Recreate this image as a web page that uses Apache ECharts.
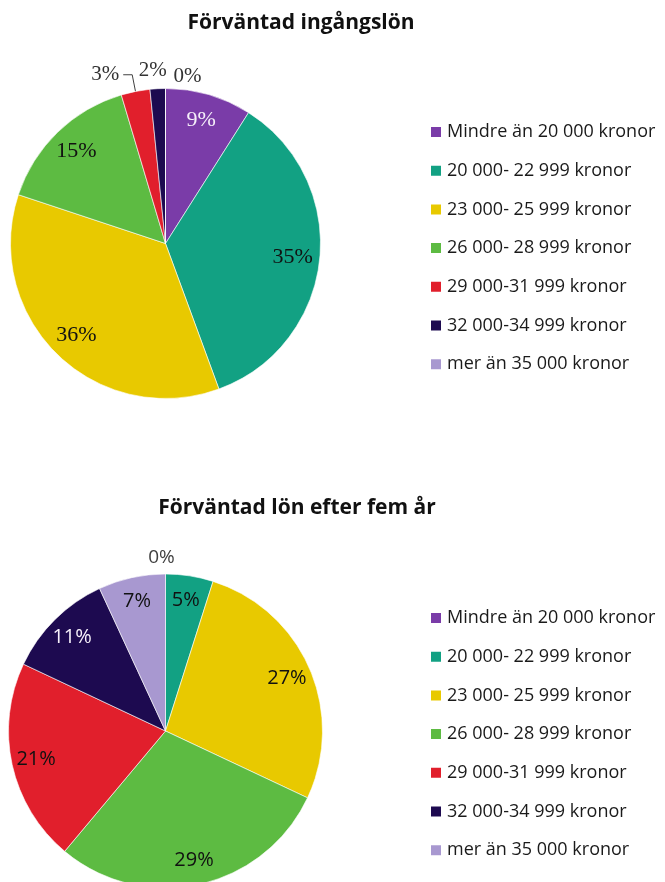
<!DOCTYPE html>
<html>
<head>
<meta charset="utf-8">
<script src="https://cdn.jsdelivr.net/npm/echarts@6/dist/echarts.min.js"></script>
<style>
  html, body { margin: 0; padding: 0; background: #fff; }
  #chart { width: 665px; height: 882px; }
</style>
</head>
<body>
<div id="chart"></div>
<script>
// lönekategorier (samma i båda diagrammen)
var categories = [
    "Mindre än 20 000 kronor",
    "20 000- 22 999 kronor",
    "23 000- 25 999 kronor",
    "26 000- 28 999 kronor",
    "29 000-31 999 kronor",
    "32 000-34 999 kronor",
    "mer än 35 000 kronor"
];
var colors = ["#7a3ca8", "#12a183", "#e8c900", "#5dbb42", "#e11f2c", "#1d0a50", "#a898d0"];

// andel i procent
var startValues = [9.0, 35.4, 35.7, 15.3, 3.0, 1.6, 0];
var fiveYearValues = [0, 4.9, 27.1, 29.1, 20.9, 11.1, 6.9];

var titles = ["Förväntad ingångslön", "Förväntad lön efter fem år"];

function pct(p) {
    return Math.round(p.percent) + "%";
}

// top chart: outside labels for the small slices
var topOutside = {
    4: { length: 17, length2: 9, line: true, center: false },
    5: { length: 18, length2: 0, line: false, center: true },
    6: { length: 12, length2: 4, line: false, center: false }
};
var bottomOutside = {
    0: { length: 16, length2: 0, line: false, center: true }
};

function buildPie(vals, center, radius, innerLabelR, font, fontSize, lightIdx, outside, outsideColor) {
    var main = {
        type: "pie",
        center: center,
        radius: radius,
        startAngle: 90,
        clockwise: true,
        avoidLabelOverlap: false,
        itemStyle: { borderColor: "#ffffff", borderWidth: 0.6 },
        emphasis: { disabled: true },
        label: { show: false },
        labelLine: { show: false },
        labelLayout: function(p) {
            var o = outside[p.dataIndex];
            if (o && o.center) {
                return { align: "center" };
            }
            return {};
        },
        data: vals.map(function(v, i) {
            var item = { name: categories[i], value: v, itemStyle: { color: colors[i] } };
            var o = outside[i];
            if (o) {
                item.label = {
                    show: true,
                    position: "outside",
                    formatter: pct,
                    fontFamily: font,
                    fontSize: fontSize - 1,
                    color: outsideColor,
                    distanceToLabelLine: 4
                };
                item.labelLine = {
                    show: o.line,
                    length: o.length,
                    length2: o.length2,
                    lineStyle: { color: "#404040", width: 1 }
                };
            }
            return item;
        })
    };
    var labels = {
        type: "pie",
        center: center,
        radius: [innerLabelR, radius],
        startAngle: 90,
        clockwise: true,
        silent: true,
        itemStyle: { color: "rgba(0,0,0,0)" },
        label: {
            show: true,
            position: "inside",
            formatter: pct,
            fontFamily: font,
            fontSize: fontSize,
            color: "#111111"
        },
        labelLine: { show: false },
        data: vals.map(function(v, i) {
            var item = { name: categories[i], value: v };
            if (outside[i]) {
                item.label = { show: false };
            } else if (lightIdx.indexOf(i) >= 0) {
                item.label = { color: "#f6f0fa" };
            }
            return item;
        })
    };
    return [main, labels];
}

function buildLegend(top) {
    return {
        orient: "vertical",
        left: 424,
        top: top,
        icon: "rect",
        itemWidth: 12,
        itemHeight: 12,
        itemGap: 18.7,
        selectedMode: false,
        textStyle: { fontFamily: "Open Sans", fontSize: 18, color: "#1a1a1a", lineHeight: 20 },
        data: categories
    };
}

var chart = echarts.init(document.getElementById("chart"));
var series = []
    .concat(buildPie(startValues, [165.5, 243.5], 155, 95, "Liberation Serif", 22, [0], topOutside, "#333333"))
    .concat(buildPie(fiveYearValues, [165.5, 731], 157, 102, "Open Sans", 20, [5], bottomOutside, "#404040"));

chart.setOption({
    backgroundColor: "#ffffff",
    animation: false,
    title: [
        {
            text: titles[0], left: 296, top: 8, textAlign: "center",
            textStyle: { fontFamily: "Open Sans", fontWeight: "bold", fontSize: 21, color: "#111111" }
        },
        {
            text: titles[1], left: 292, top: 493, textAlign: "center",
            textStyle: { fontFamily: "Open Sans", fontWeight: "bold", fontSize: 21, color: "#111111" }
        }
    ],
    legend: [buildLegend(117), buildLegend(603)],
    series: series
});
</script>
</body>
</html>
